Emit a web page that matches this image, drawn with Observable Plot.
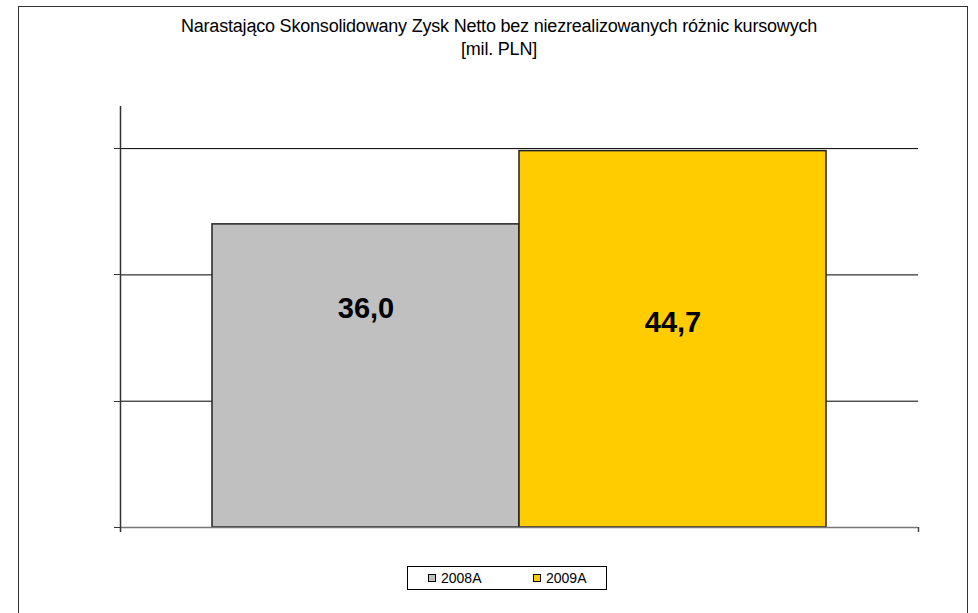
<!DOCTYPE html>
<html><head><meta charset="utf-8">
<script src="https://cdn.jsdelivr.net/npm/d3@7"></script>
<script src="https://cdn.jsdelivr.net/npm/@observablehq/plot@0.6"></script>
<style>
body{margin:0;background:#fff;font-family:"Liberation Sans",Arial,sans-serif;}
#wrap{position:relative;width:978px;height:613px;overflow:hidden;}
#frame{position:absolute;left:18px;top:6px;width:950px;height:640px;border:1px solid #333;box-sizing:border-box;}
#title{position:absolute;left:0;width:998px;top:15px;text-align:center;font-size:18px;line-height:23px;color:#000;letter-spacing:-0.2px;}
#legend{position:absolute;left:407px;top:566px;width:200px;height:24px;border:1px solid #000;box-sizing:border-box;font-size:14px;}
.li{position:absolute;top:3px;display:flex;align-items:center;}
.sw{width:8px;height:8px;border:1px solid #000;box-sizing:border-box;margin-right:5px;}
#chart{position:absolute;left:0;top:0;}
</style></head>
<body><div id="wrap"><div id="frame"></div><div id="title"></div><div id="chart"></div><div id="legend"></div></div>
<script>
const titleLines = ["Narastająco Skonsolidowany Zysk Netto bez niezrealizowanych różnic kursowych", "[mil. PLN]"];
const categories = ["2008A", "2009A"];
const values = [36.0, 44.7];
const labels = ["36,0", "44,7"];
const colors = ["#C0C0C0", "#FFCC00"];
const yTicks = [0, 15, 30, 45];
const yMax = 50;

const data = categories.map((c, i) => ({cat: c, value: values[i], label: labels[i]}));

document.getElementById("title").innerHTML = titleLines.join("<br>");

const plot = Plot.plot({
  width: 978, height: 613,
  marginLeft: 120, marginRight: 60, marginTop: 106, marginBottom: 86,
  x: {domain: categories, paddingInner: 0, paddingOuter: 0.2976, axis: null},
  y: {domain: [0, yMax], axis: null},
  color: {domain: categories, range: colors},
  style: {fontFamily: "Liberation Sans, Arial, sans-serif", background: "transparent"},
  marks: [
    Plot.ruleY(yTicks.filter(d => d > 0), {stroke: "#000", strokeWidth: 1}),
    Plot.barY(data, {x: "cat", y: "value", fill: "cat", stroke: "#222", strokeWidth: 1.5}),
    Plot.ruleY([0], {stroke: "#777", strokeWidth: 1.5}),
    Plot.text(data.filter(d => d.cat === categories[0]), {x: "cat", y: d => d.value / 2, text: "label", fontSize: 29, fontWeight: "bold", fill: "#000", dy: -67}),
    Plot.text(data.filter(d => d.cat === categories[1]), {x: "cat", y: d => d.value / 2, text: "label", fontSize: 29, fontWeight: "bold", fill: "#000", dy: -17})
  ]
});
document.getElementById("chart").appendChild(plot);

// axis lines and ticks drawn via the plot's scales
const sy = plot.scale("y");
const svg = d3.select(plot);
const x0 = 120, x1 = 918;
const g = svg.append("g");
g.append("line").attr("x1", x0 + 0.5).attr("x2", x0 + 0.5).attr("y1", sy.apply(yMax)).attr("y2", sy.apply(0) + 5).attr("stroke", "#333").attr("stroke-width", 1.5);
for (const t of yTicks) {
  const y = Math.round(sy.apply(t)) + 0.5;
  g.append("line").attr("x1", x0 - 6).attr("x2", x0).attr("y1", y).attr("y2", y).attr("stroke", "#333");
}
g.append("line").attr("x1", x1 + 0.5).attr("x2", x1 + 0.5).attr("y1", sy.apply(0)).attr("y2", sy.apply(0) + 5).attr("stroke", "#444").attr("stroke-width", 1.5);

const leg = document.getElementById("legend");
const legX = [20, 125];
categories.forEach((c, i) => {
  const d = document.createElement("div");
  d.className = "li"; d.style.left = legX[i] + "px";
  d.innerHTML = `<span class="sw" style="background:${colors[i]}"></span><span>${c}</span>`;
  leg.appendChild(d);
});
</script></body></html>
